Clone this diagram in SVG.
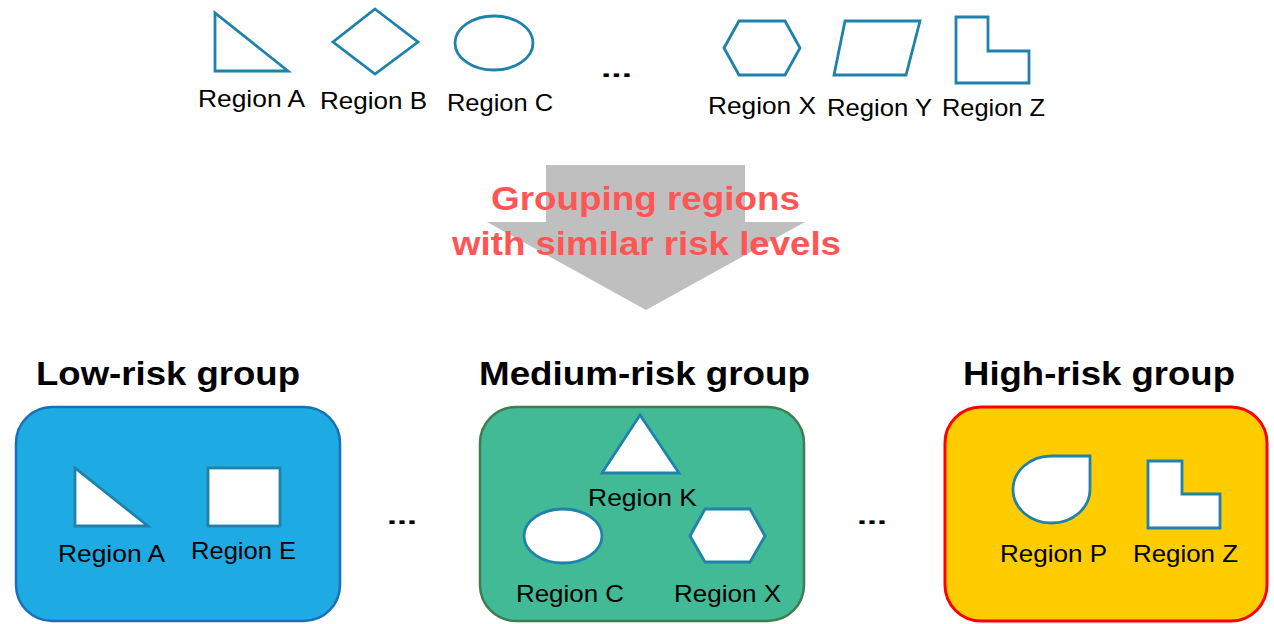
<svg xmlns="http://www.w3.org/2000/svg" width="1274" height="624" viewBox="0 0 1274 624">
<style>
.shape{fill:#ffffff;stroke:#1f82ab;stroke-width:2.8;stroke-linejoin:miter}
.top{fill:none}
.lbl{font-family:"Liberation Sans",Arial,sans-serif;font-size:24px;fill:#000000}
.ttl{font-family:"Liberation Sans",Arial,sans-serif;font-size:34px;font-weight:bold;fill:#000000}
.red{font-family:"Liberation Sans",Arial,sans-serif;font-size:34px;font-weight:bold;fill:#ff5555}
.dots{font-family:"Liberation Sans",Arial,sans-serif;font-size:24px;font-weight:bold;fill:#000000}
</style>
<rect width="1274" height="624" fill="#ffffff"/>

<!-- top row regions -->
<g id="top-region-a">
<polygon class="shape top" points="215,13 215,71 288,71"/>
<text class="lbl" x="198" y="107" textLength="107" lengthAdjust="spacingAndGlyphs">Region A</text>
</g>
<g id="top-region-b">
<polygon class="shape top" points="375,9 418,42 375,74 333,42"/>
<text class="lbl" x="320" y="109" textLength="107" lengthAdjust="spacingAndGlyphs">Region B</text>
</g>
<g id="top-region-c">
<ellipse class="shape top" cx="494" cy="43" rx="39" ry="27"/>
<text class="lbl" x="447" y="111" textLength="106" lengthAdjust="spacingAndGlyphs">Region C</text>
</g>
<g id="top-dots">
<text class="dots" x="601" y="77" textLength="31" lengthAdjust="spacingAndGlyphs">...</text>
</g>
<g id="top-region-x">
<polygon class="shape top" points="724,48 739,21 785,21 800,48 785,75 739,75"/>
<text class="lbl" x="708" y="114" textLength="108" lengthAdjust="spacingAndGlyphs">Region X</text>
</g>
<g id="top-region-y">
<polygon class="shape top" points="845,21 920,21 906,75 834,75"/>
<text class="lbl" x="827" y="116" textLength="105" lengthAdjust="spacingAndGlyphs">Region Y</text>
</g>
<g id="top-region-z">
<polygon class="shape top" points="956,17 988,17 988,51 1029,51 1029,83 956,83"/>
<text class="lbl" x="942" y="116" textLength="103" lengthAdjust="spacingAndGlyphs">Region Z</text>
</g>

<!-- big arrow -->
<g id="connectors">
<polygon points="546,165 745,165 745,222 805,222 646,310 487,222 546,222" fill="#bfbfbf"/>
</g>
<g id="arrow-label">
<text class="red" x="491" y="210" textLength="309" lengthAdjust="spacingAndGlyphs">Grouping regions</text>
<text class="red" x="452" y="255" textLength="389" lengthAdjust="spacingAndGlyphs">with similar risk levels</text>
</g>

<!-- low risk -->
<g id="low-risk-group">
<text class="ttl" x="36" y="385" textLength="264" lengthAdjust="spacingAndGlyphs">Low-risk group</text>
<rect x="16" y="407" width="324" height="214" rx="36" ry="36" fill="#1eabe3" stroke="#1770b8" stroke-width="2.5"/>
<polygon class="shape" points="75,468 75,526 148,526" stroke="#1d7fa3"/>
<rect class="shape" x="208" y="468" width="72" height="58" stroke="#1d7fa3"/>
<text class="lbl" x="58" y="562" textLength="107" lengthAdjust="spacingAndGlyphs">Region A</text>
<text class="lbl" x="191" y="559" textLength="105" lengthAdjust="spacingAndGlyphs">Region E</text>
</g>

<g id="dots-left">
<text class="dots" x="387" y="524" textLength="30" lengthAdjust="spacingAndGlyphs">...</text>
</g>

<!-- medium risk -->
<g id="medium-risk-group">
<text class="ttl" x="479" y="385" textLength="331" lengthAdjust="spacingAndGlyphs">Medium-risk group</text>
<rect x="480" y="407" width="324" height="214" rx="36" ry="36" fill="#42ba96" stroke="#3d7d4f" stroke-width="2.5"/>
<polygon class="shape" points="640,415 679,473 602,473"/>
<text class="lbl" x="588" y="506" textLength="109" lengthAdjust="spacingAndGlyphs">Region K</text>
<ellipse class="shape" cx="563" cy="536" rx="39" ry="27"/>
<polygon class="shape" points="690,536 705,509 750,509 765,536 750,562 705,562"/>
<text class="lbl" x="516" y="602" textLength="108" lengthAdjust="spacingAndGlyphs">Region C</text>
<text class="lbl" x="674" y="602" textLength="107" lengthAdjust="spacingAndGlyphs">Region X</text>
</g>

<g id="dots-right">
<text class="dots" x="857" y="524" textLength="30" lengthAdjust="spacingAndGlyphs">...</text>
</g>

<!-- high risk -->
<g id="high-risk-group">
<text class="ttl" x="963" y="385" textLength="272" lengthAdjust="spacingAndGlyphs">High-risk group</text>
<rect x="945" y="407" width="322" height="214" rx="36" ry="36" fill="#ffcc00" stroke="#ff0000" stroke-width="3"/>
<path class="shape" d="M1051.5,456 L1090,456 L1090,489.5 A38.5,33.5 0 1 1 1051.5,456 Z"/>
<polygon class="shape" points="1148,461 1182,461 1182,494 1220,494 1220,528 1148,528"/>
<text class="lbl" x="1000" y="562" textLength="107" lengthAdjust="spacingAndGlyphs">Region P</text>
<text class="lbl" x="1133" y="562" textLength="105" lengthAdjust="spacingAndGlyphs">Region Z</text>
</g>
</svg>
